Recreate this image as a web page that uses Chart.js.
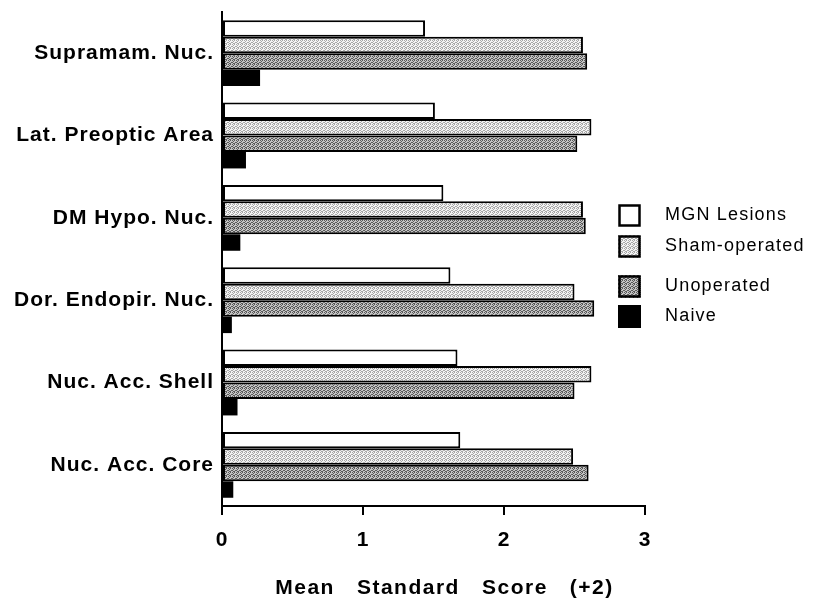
<!DOCTYPE html>
<html>
<head>
<meta charset="utf-8">
<script src="https://cdn.jsdelivr.net/npm/chart.js@4.4.1/dist/chart.umd.min.js"></script>
<style>
  html, body { margin: 0; padding: 0; background: #fff; }
  #wrap { width: 813px; height: 602px; position: relative; }
</style>
</head>
<body>
<div id="wrap"><canvas id="chart" width="813" height="602"></canvas></div>
<script>
const regions = ['Supramam. Nuc.', 'Lat. Preoptic Area', 'DM Hypo. Nuc.', 'Dor. Endopir. Nuc.', 'Nuc. Acc. Shell', 'Nuc. Acc. Core'];
const groupNames = ['MGN Lesions', 'Sham-operated', 'Unoperated', 'Naive'];
const mgnLesions = [1.44, 1.51, 1.57, 1.62, 1.67, 1.69];
const shamOperated = [2.56, 2.62, 2.56, 2.50, 2.62, 2.49];
const unoperated = [2.59, 2.52, 2.58, 2.64, 2.50, 2.60];
const naive = [0.27, 0.17, 0.13, 0.07, 0.11, 0.08];
const xTicks = [0, 1, 2, 3];
const xTitle = 'Mean   Standard   Score   (+2)';

const FONT = '"Liberation Sans", Arial, sans-serif';

// stipple fills like the old printed figure
function stipple(light, dark) {
    const c = document.createElement('canvas');
    c.width = 4; c.height = 4;
    const g = c.getContext('2d');
    g.fillStyle = light;
    g.fillRect(0, 0, 4, 4);
    g.fillStyle = dark;
    [[0, 0], [2, 0], [1, 1], [3, 2], [0, 2], [2, 3], [1, 3]].forEach(p => g.fillRect(p[0], p[1], 1, 1));
    return document.getElementById('chart').getContext('2d').createPattern(c, 'repeat');
}

const fills = ['#ffffff', stipple('#f4f4f4', '#a8a8a8'), stipple('#c4c4c4', '#5a5a5a'), '#000000'];
const seriesData = [mgnLesions, shamOperated, unoperated, naive];

// the printed labels are a little loosely tracked
const trackingPlugin = {
    id: 'tracking',
    beforeDraw(chart) {
        chart.ctx.letterSpacing = '1px';
    }
};

const legendPlugin = {
    id: 'sideLegend',
    afterDraw(chart) {
        const ctx = chart.ctx;
        const ys = [204, 235, 275, 305];
        ctx.save();
        ctx.letterSpacing = '1.2px';
        ctx.font = '18px ' + FONT;
        ctx.textBaseline = 'middle';
        chart.data.datasets.forEach((ds, i) => {
            ctx.fillStyle = ds.backgroundColor;
            ctx.fillRect(618, ys[i], 23, 23);
            if (i < 3) {
                ctx.strokeStyle = '#000';
                ctx.lineWidth = 2.5;
                ctx.strokeRect(619.5, ys[i] + 1.5, 20, 20);
            }
            ctx.fillStyle = '#000';
            ctx.fillText(ds.label, 665, ys[i] + 11);
        });

        // axis title
        const x = chart.scales.x;
        ctx.letterSpacing = '1.5px';
        ctx.font = 'bold 21px ' + FONT;
        ctx.textAlign = 'center';
        ctx.fillText(xTitle, (x.left + x.right) / 2 + 11, 588);
        ctx.restore();
    }
};

new Chart(document.getElementById('chart'), {
    type: 'bar',
    data: {
        labels: regions,
        datasets: groupNames.map((name, i) => ({
            label: name,
            data: seriesData[i],
            backgroundColor: fills[i],
            borderColor: '#000',
            borderWidth: i < 3 ? 2 : 0,
            borderSkipped: false,
            categoryPercentage: 0.8,
            barPercentage: 1.0
        }))
    },
    options: {
        indexAxis: 'y',
        responsive: false,
        animation: false,
        layout: { padding: { top: 12, right: 168, left: 6, bottom: 0 } },
        plugins: {
            legend: { display: false },
            tooltip: { enabled: false }
        },
        scales: {
            x: {
                min: 0,
                max: 3,
                afterBuildTicks: scale => { scale.ticks = xTicks.map(v => ({ value: v })); },
                afterFit: scale => { scale.height = 96; },
                grid: {
                    drawOnChartArea: false,
                    drawTicks: true,
                    tickLength: 9,
                    color: '#000',
                    lineWidth: 2
                },
                border: { display: true, color: '#000', width: 2 },
                ticks: {
                    color: '#000',
                    padding: 13,
                    font: { family: FONT, size: 21, weight: 'bold' }
                }
            },
            y: {
                afterFit: scale => {
                    scale.width = 216;
                    scale.paddingTop = 0;
                    scale.paddingBottom = 0;
                },
                grid: { display: false, drawTicks: false },
                border: { display: true, color: '#000', width: 2 },
                ticks: {
                    color: '#000',
                    padding: 8,
                    font: { family: FONT, size: 21, weight: 'bold' }
                }
            }
        }
    },
    plugins: [trackingPlugin, legendPlugin]
});
</script>
</body>
</html>
